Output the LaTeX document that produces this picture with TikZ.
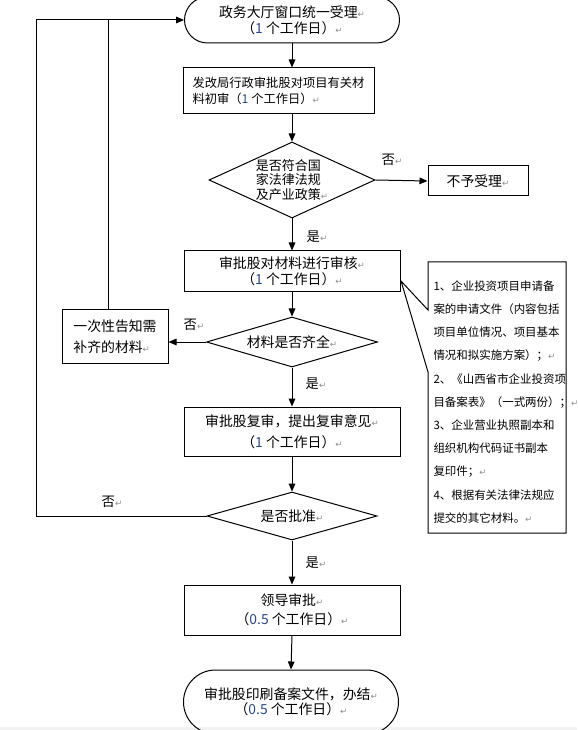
\documentclass[tikz,border=0pt]{standalone}
\usepackage{fontspec}
\setmainfont{Noto Sans CJK SC}
\newfontfamily\dvfont{DejaVu Sans}
\usetikzlibrary{shapes.geometric,shapes.misc,arrows.meta}
\definecolor{pmark}{gray}{0.55}
\definecolor{digc}{RGB}{40,70,140}
\newcommand{\pmk}{{\dvfont\color{pmark}\fontsize{6.5}{7}\selectfont ↵}}
\newcommand{\dg}[1]{{\color{digc}#1}}
\begin{document}
\begin{tikzpicture}[x=0.75pt,y=-0.75pt,line width=0.75pt,
  arr/.style={-{Triangle[length=6pt,width=5pt]}},
  mainfont/.style={font=\fontsize{10.4}{12}\selectfont},
  box/.style={draw,rectangle,inner sep=0pt,align=center,mainfont},
  stad/.style={draw,rounded rectangle,inner sep=0pt,align=center,mainfont},
  dia/.style={draw,diamond,inner sep=0pt,align=center,mainfont},
  lbl/.style={font=\fontsize{10}{12}\selectfont,inner sep=0pt}]
\useasboundingbox (0,0) rectangle (577,730);
\clip (0,0) rectangle (577,730);
\fill[gray!10] (0,727) rectangle (577,730);

% nodes
\node[stad,minimum width=161.25pt,minimum height=34.5pt,font=\fontsize{10.4}{12}\selectfont] (s1) at (292,20)
  {政务大厅窗口统一受理\pmk\\（\dg{1} 个工作日）\pmk};
\node[box,minimum width=143.25pt,minimum height=34.5pt,align=left,font=\fontsize{9.2}{12.5}\selectfont] (b2) at (278.5,91)
  {发改局行政审批股对项目有关材\\料初审（\dg{1} 个工作日）\pmk};
\node[dia,aspect=2.15,minimum width=124.5pt,minimum height=57pt,align=left,font=\fontsize{9.75}{11}\selectfont] (d1) at (292,180)
  {是否符合国\\家法律法规\\及产业政策\pmk};
\node[box,minimum width=75pt,minimum height=22.5pt] (rej) at (478,181) {不予受理\pmk};
\node[box,minimum width=162pt,minimum height=30.75pt,font=\fontsize{10.4}{12}\selectfont] (b3) at (292,271.5)
  {审批股对材料进行审核\pmk\\（\dg{1} 个工作日）\pmk};
\node[dia,aspect=3.4,minimum width=128.25pt,minimum height=37.5pt] (d2) at (292,342) {材料是否齐全\pmk};
\node[box,minimum width=79.5pt,minimum height=39.75pt,align=left,font=\fontsize{10.4}{16}\selectfont] (bt) at (115,336.5)
  {一次性告知需\\补齐的材料\pmk};
\node[box,minimum width=162pt,minimum height=36.75pt,font=\fontsize{10.4}{15.5}\selectfont] (b4) at (292,431.5)
  {审批股复审，提出复审意见\pmk\\（\dg{1} 个工作日）\pmk};
\node[dia,aspect=3,minimum width=127.5pt,minimum height=36pt] (d3) at (292,516) {是否批准\pmk};
\node[box,minimum width=162pt,minimum height=37.5pt,font=\fontsize{10.4}{14}\selectfont] (b5) at (292,610)
  {领导审批\pmk\\（\dg{0.5} 个工作日）\pmk};
\node[stad,minimum width=161.25pt,minimum height=48pt,font=\fontsize{10.4}{11.5}\selectfont] (s2) at (291,702)
  {审批股印刷备案文件，办结\pmk\\（\dg{0.5} 个工作日）\pmk};

% note callout
\coordinate (tip) at (401,281);
\draw (428,262) -- (428,310) -- (tip) -- (428,372) -- (428,533) -- (566,533) -- (566,262) -- cycle;
\node[anchor=north west,inner sep=0pt,align=left,font=\fontsize{8.6}{17.4}\selectfont] (note) at (433,280)
  {1、企业投资项目申请备\\
   案的申请文件（内容包括\\
   项目单位情况、项目基本\\
   情况和拟实施方案）；\pmk\\
   2、《山西省市企业投资项\\
   目备案表》（一式两份）；\pmk\\
   3、企业营业执照副本和\\
   组织机构代码证书副本\\
   复印件；\pmk\\
   4、根据有关法律法规应\\
   提交的其它材料。\pmk};

% connectors
\draw[arr] (s1.south) -- (s1.south |- b2.north);
\draw[arr] (s1.south |- b2.south) -- (d1.north);
\draw[arr] (d1.east) -- (rej.west);
\draw[arr] (d1.south) -- (b3.north);
\draw[arr] (b3.south) -- (d2.north);
\draw[arr] (d2.west) -- (d2.west -| bt.east);
\draw[arr] (d2.south) -- (b4.north);
\draw[arr] (b4.south) -- (d3.north);
\draw[arr] (d3.south) -- (b5.north);
\draw[arr] (b5.south) -- (s2.north);
\coordinate (lc) at (36,20);
\draw[arr] (d3.west) -| (lc) -- (s1.west);
\draw ([xshift=-5.25pt]bt.north) -- ([xshift=-5.25pt]bt.north |- s1.west);

% labels
\node[lbl] (l1) at (392,160) {否\pmk};
\node[lbl] (l2) at (317,237) {是\pmk};
\node[lbl] (l3) at (194,325) {否\pmk};
\node[lbl] (l4) at (316,384) {是\pmk};
\node[lbl] (l5) at (112,502) {否\pmk};
\node[lbl] (l6) at (316,563) {是\pmk};
\end{tikzpicture}
\end{document}
